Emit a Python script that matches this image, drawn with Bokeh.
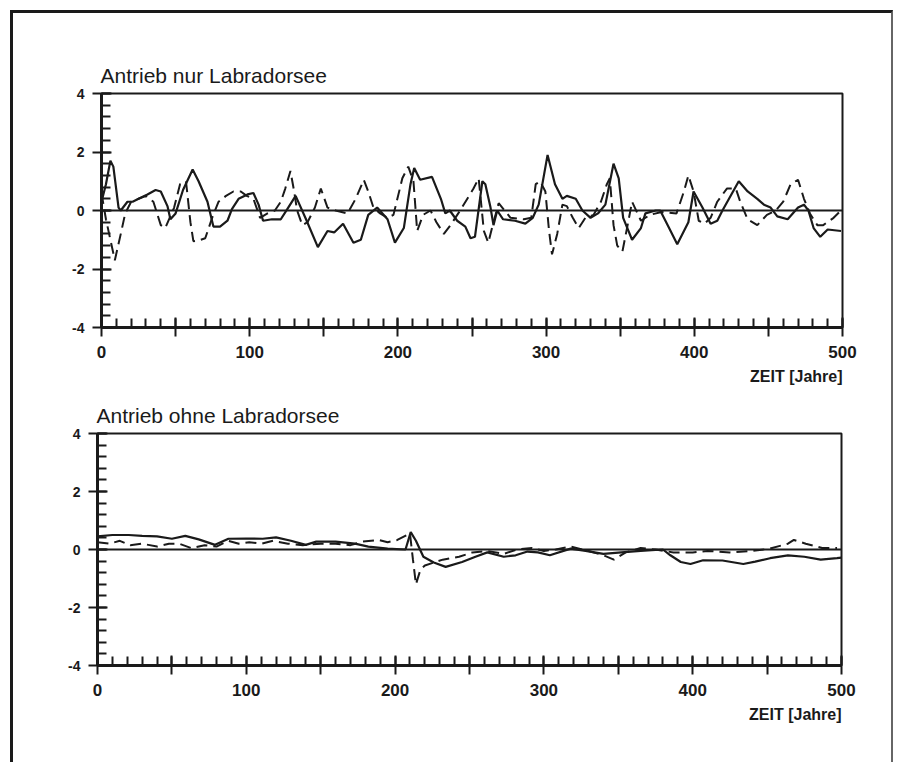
from bokeh.plotting import figure
from bokeh.layouts import column, row
from bokeh.models import Range1d, SingleIntervalTicker, Span, Title
from bokeh.embed import file_html
from bokeh.resources import INLINE

# ---- data ----
top_solid_year = [0, 3, 6, 8, 11.5, 13, 17.5, 21, 25, 31, 36.5, 40, 44.5, 46.5, 50, 55, 61.5, 65.5, 71.5, 75.5,
                  80, 85, 88, 92.5, 98.5, 102.5, 106, 109, 115, 121, 126, 131, 138, 146, 152.5, 157, 163, 170,
                  175, 180, 186, 193, 198, 204, 208.5, 211, 215, 223, 229, 232, 235, 240, 245.5, 249, 252, 257,
                  259, 262.5, 264.5, 267, 271, 279, 286, 291, 295, 301, 306, 311, 314, 320, 324.5, 330, 335, 340,
                  345.5, 349, 352, 358, 364, 367, 374, 377, 383, 388.5, 396, 399.5, 405.5, 411, 415.5, 419, 430,
                  436, 442.5, 447, 451.5, 456, 463, 470, 474, 477, 480.5, 485, 490, 499]
top_solid_val = [0.3, 0.9, 1.7, 1.5, 0.1, 0.0, 0.3, 0.3, 0.4, 0.55, 0.7, 0.65, 0.15, -0.3, -0.1, 0.7, 1.4, 1.0, 0.3,
                 -0.55, -0.55, -0.35, 0.05, 0.4, 0.55, 0.6, 0.2, -0.35, -0.3, -0.3, 0.1, 0.5, -0.3, -1.25, -0.7,
                 -0.75, -0.45, -1.1, -1.0, -0.15, 0.1, -0.3, -1.1, -0.6, 0.9, 1.45, 1.05, 1.15, 0.4, -0.1, 0.0,
                 -0.35, -0.55, -0.95, -0.9, 1.0, 0.9, 0.1, -0.5, 0.0, -0.3, -0.35, -0.45, -0.25, 0.2, 1.9, 0.9,
                 0.4, 0.5, 0.4, 0.0, -0.25, -0.1, 0.2, 1.6, 1.1, -0.25, -1.0, -0.6, -0.1, 0.0, 0.0, -0.6, -1.15,
                 -0.4, 0.65, 0.1, -0.45, -0.35, 0.0, 1.0, 0.65, 0.4, 0.2, 0.1, -0.2, -0.3, 0.1, 0.2, 0.0, -0.6,
                 -0.9, -0.65, -0.7]

top_dash_year = [0, 3, 6, 9, 13, 16, 20, 25, 30, 35, 40, 43, 49, 53, 57, 60, 62, 67, 70, 75, 79, 84, 89, 94, 98,
                 102.5, 107, 112, 117, 121, 124, 127.5, 130, 132, 135.5, 139, 144, 148, 152.5, 158, 166, 171.5,
                 177, 180, 183.5, 188, 193, 197, 203, 207, 210.5, 213, 217, 222, 226, 231, 235.5, 242, 251,
                 254.5, 258, 261, 264, 268, 272, 276, 285, 290, 293, 296, 299.5, 302, 304, 307.5, 311, 314, 318,
                 322, 326.5, 332, 337, 341, 343, 345.5, 348, 351.5, 355, 358, 364, 370, 378, 388, 393, 396,
                 399.5, 403, 407, 411, 415.5, 422, 428, 431, 436, 442.5, 449, 455, 460, 465, 470, 474, 478, 483,
                 487, 494, 500]
top_dash_val = [0.6, -0.3, -1.0, -1.7, -0.8, -0.1, 0.3, 0.4, 0.5, 0.3, -0.5, -0.6, 0.1, 0.9, 1.0, -0.4, -1.05,
                -1.0, -0.95, -0.2, 0.3, 0.5, 0.65, 0.65, 0.5, 0.4, -0.25, -0.1, 0.0, 0.3, 0.75, 1.35, 0.65, 0.0,
                -0.5, -0.4, 0.1, 0.75, 0.1, 0.0, -0.1, 0.4, 1.05, 0.65, 0.1, -0.1, -0.25, -0.15, 1.1, 1.5, 1.0,
                -0.7, -0.15, 0.0, -0.4, -0.8, -0.5, 0.0, 0.75, 1.1, -0.7, -1.1, -0.5, 0.25, 0.0, -0.25, -0.3,
                -0.25, 0.9, 1.0, 0.65, -0.7, -1.5, -0.8, 0.2, 0.15, -0.25, -0.6, -0.25, -0.15, 0.3, 0.9, 1.1,
                -0.5, -1.2, -1.4, -0.5, 0.3, -0.35, -0.15, -0.05, -0.1, 0.65, 1.2, 0.65, -0.35, -0.45, -0.25,
                0.3, 0.75, 0.75, 0.3, -0.3, -0.5, -0.15, 0.0, 0.3, 0.9, 1.05, 0.4, -0.1, -0.5, -0.5, -0.25, 0.05]

bot_solid_year = [0, 10, 21, 30, 40, 50, 59, 68, 79, 88, 100, 111, 120, 130, 140, 147, 160, 173, 182, 195, 207,
                  210.5, 214, 219, 226, 234, 245, 254, 262, 273, 281, 289, 296, 304, 318, 328, 340, 352, 365, 380,
                  385, 392, 398.5, 407, 420, 434, 442, 452, 464, 475, 486, 497, 500]
bot_solid_val = [0.45, 0.5, 0.5, 0.47, 0.45, 0.37, 0.47, 0.35, 0.16, 0.37, 0.38, 0.37, 0.42, 0.3, 0.16, 0.27,
                 0.27, 0.2, 0.1, 0.03, 0.0, 0.6, 0.3, -0.25, -0.45, -0.6, -0.43, -0.25, -0.1, -0.25, -0.2, -0.07,
                 -0.1, -0.2, 0.03, -0.05, -0.15, -0.1, -0.05, 0.0, -0.2, -0.43, -0.5, -0.37, -0.38, -0.5, -0.42,
                 -0.3, -0.2, -0.25, -0.35, -0.3, -0.28]

bot_dash_year = [0, 8, 15, 22, 30, 40, 48, 55, 63, 72, 80, 88, 95, 102, 110, 118, 128, 138, 150, 160, 170, 178,
                 189, 195, 201.5, 208, 210, 212, 214, 217, 220, 232, 243, 252, 262, 273, 282, 292, 300, 308, 318,
                 330, 340, 347, 355, 365, 375, 387, 400, 410, 425, 440, 452, 464, 468, 476, 487, 497]
bot_dash_val = [0.25, 0.2, 0.3, 0.15, 0.2, 0.1, 0.2, 0.2, 0.05, 0.15, 0.1, 0.3, 0.2, 0.25, 0.2, 0.3, 0.2, 0.15,
                0.2, 0.2, 0.15, 0.27, 0.33, 0.25, 0.33, 0.5, 0.55, -0.35, -1.2, -0.7, -0.55, -0.35, -0.25, -0.1,
                -0.05, -0.15, 0.0, 0.05, -0.05, 0.0, 0.1, -0.05, -0.2, -0.35, -0.1, 0.05, 0.0, -0.1, -0.1, -0.05,
                -0.1, -0.05, 0.03, 0.2, 0.33, 0.2, 0.05, 0.05]

titles = ["Antrieb nur Labradorsee", "Antrieb ohne Labradorsee"]
x_label = "ZEIT [Jahre]"
y_tick_labels = {4: "4", 2: "2", 0: "0", -2: "-2", -4: "-4"}
x_tick_labels = {0: "0", 50: "", 100: "100", 150: "", 200: "200", 250: "", 300: "300", 350: "",
                 400: "400", 450: "", 500: "500"}

INK = "#1a1a1a"


def make_panel(title, solid_x, solid_y, dash_x, dash_y, height, mb_left, mb_right, mb_top, mb_bottom):
    p = figure(width=878, height=height, output_backend="svg", toolbar_location=None,
               x_range=Range1d(0, 500), y_range=Range1d(-4, 4),
               min_border_left=mb_left, min_border_right=mb_right,
               min_border_top=mb_top, min_border_bottom=mb_bottom)
    p.title.text = title
    p.title.align = "left"
    p.title.text_font = "Liberation Sans"
    p.title.text_font_size = "21px"
    p.title.text_font_style = "normal"
    p.title.text_color = INK
    p.title.standoff = 13
    p.title.offset = -1
    p.xgrid.visible = False
    p.ygrid.visible = False
    p.outline_line_color = INK
    p.outline_line_width = 2
    p.background_fill_color = "white"
    p.border_fill_color = "white"

    p.xaxis.ticker = SingleIntervalTicker(interval=50, num_minor_ticks=5)
    p.xaxis.major_label_overrides = x_tick_labels
    p.yaxis.ticker = SingleIntervalTicker(interval=2, num_minor_ticks=5)
    p.yaxis.major_label_overrides = y_tick_labels
    for ax in (p.xaxis, p.yaxis):
        ax.axis_line_color = INK
        ax.axis_line_width = 3
        ax.major_tick_line_color = INK
        ax.major_tick_line_width = 2
        ax.minor_tick_line_color = INK
        ax.minor_tick_line_width = 2
        ax.major_tick_in = 10
        ax.major_tick_out = 9
        ax.minor_tick_in = 9
        ax.minor_tick_out = 0
        ax.major_label_text_font = "Liberation Sans"
        ax.major_label_text_font_style = "bold"
        ax.major_label_text_color = INK
    p.xaxis.major_label_text_font_size = "17px"
    p.xaxis.major_label_standoff = 9
    p.yaxis.major_label_text_font_size = "14px"
    p.yaxis.major_label_standoff = 8

    p.add_layout(Span(location=0, dimension="width", line_color=INK, line_width=2))
    p.line(dash_x, dash_y, line_color=INK, line_width=2, line_dash="11 6")
    p.line(solid_x, solid_y, line_color=INK, line_width=2.2)

    p.add_layout(Title(text=x_label, align="right", text_font="Liberation Sans",
                       text_font_style="bold", text_font_size="16px", text_color=INK,
                       standoff=11), "below")
    return p


p1 = make_panel(titles[0], top_solid_year, top_solid_val, top_dash_year, top_dash_val,
                height=382, mb_left=88, mb_right=49, mb_top=80, mb_bottom=68)
p2 = make_panel(titles[1], bot_solid_year, bot_solid_val, bot_dash_year, bot_dash_val,
                height=367, mb_left=84, mb_right=50, mb_top=37, mb_bottom=97)

layout = column(row(p1), row(p2), spacing=0,
                styles={"margin-left": "10px", "margin-top": "10px",
                        "border-left": "3px solid #1a1a1a", "border-top": "3px solid #1a1a1a",
                        "border-right": "2px solid #666666"})

open("out.html", "w").write(file_html(layout, INLINE))
